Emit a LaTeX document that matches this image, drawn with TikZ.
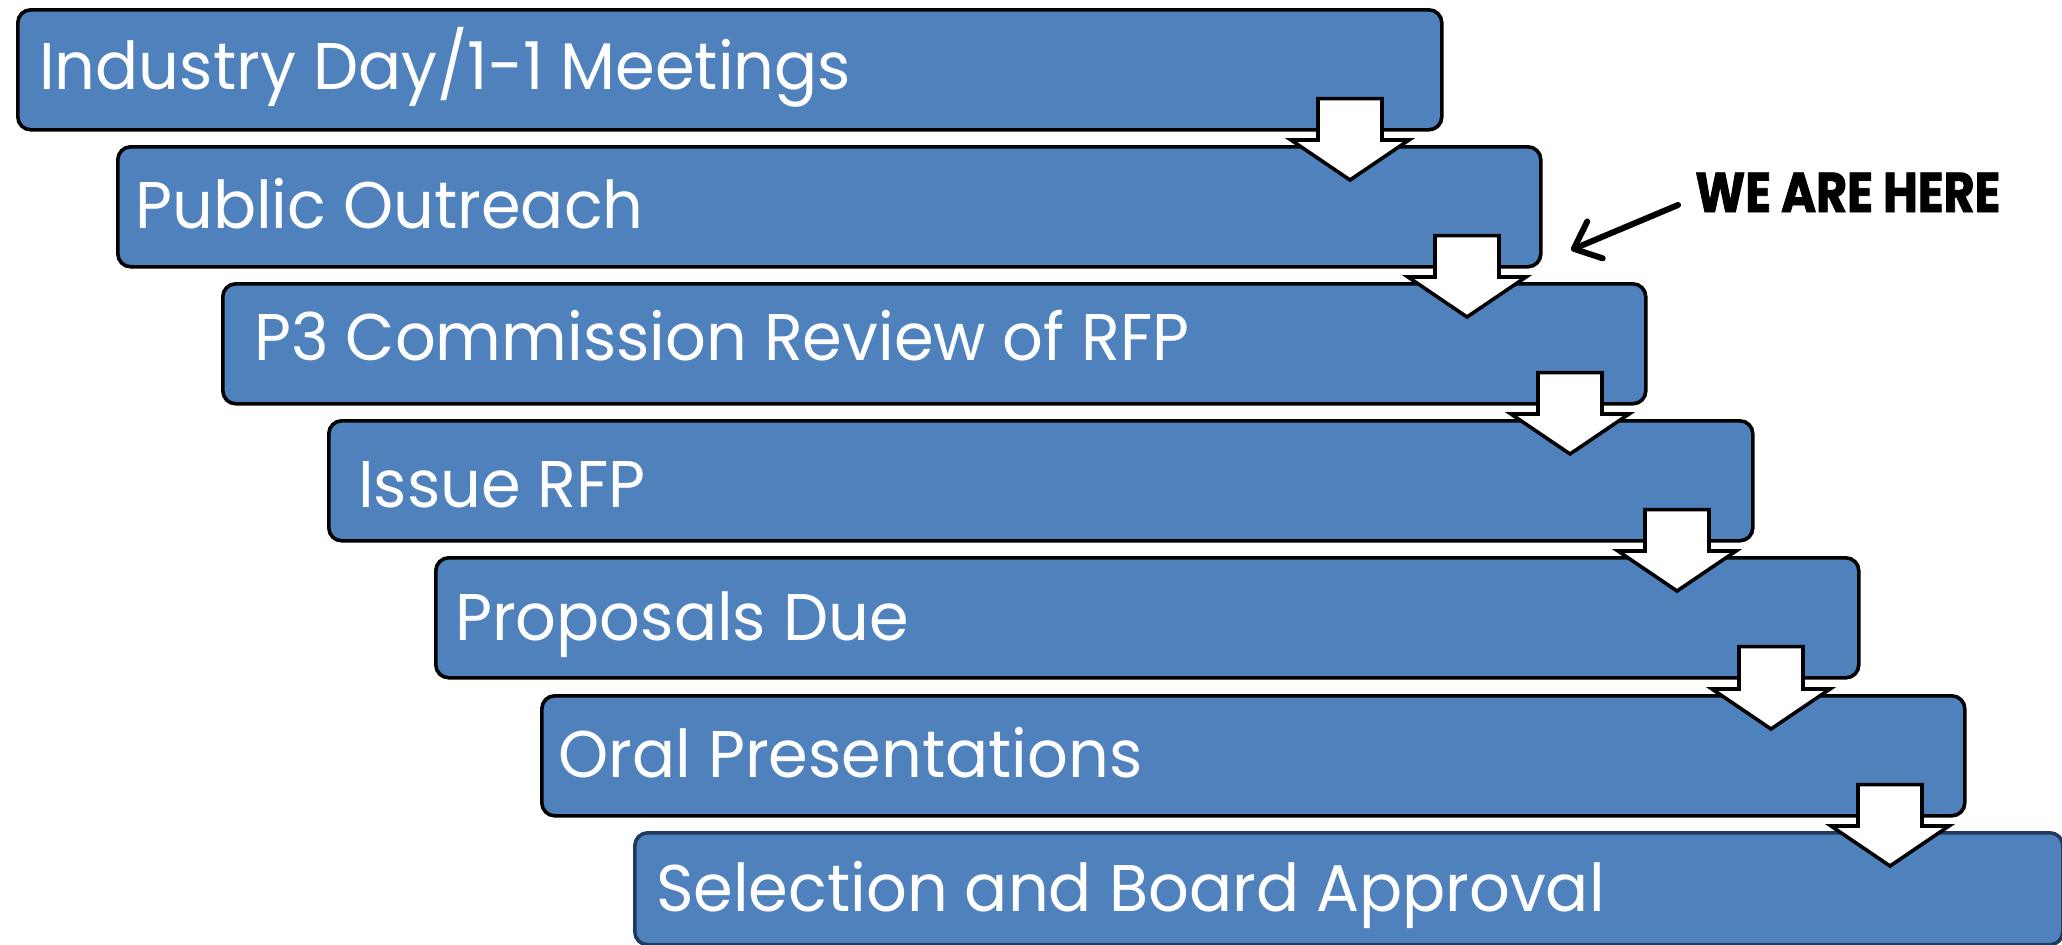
\documentclass[tikz,border=0pt]{standalone}
\usepackage{fontspec}
\setmainfont{Poppins}
\newfontfamily\boxfont{Poppins}[FakeStretch=0.967]
\newfontfamily\herefont{Poppins}[FakeStretch=0.85, FakeBold=1.5]
\usetikzlibrary{arrows.meta,calc}
\definecolor{boxblue}{HTML}{4F81BD}
\definecolor{navy}{HTML}{1F3A5F}
\newcommand\blockarr[3]{%
  \draw[blockarrow] ($(#1.south -| #3)+(-32,-33)$) -- ($(#1.south -| #3)+(32,-33)$)
    -- ($(#2.north -| #3)+(32,-5)$) -- ($(#2.north -| #3)+(59,-5)$)
    -- ($(#2.north -| #3)+(0,35)$) -- ($(#2.north -| #3)+(-59,-5)$)
    -- ($(#2.north -| #3)+(-32,-5)$) -- cycle;}
\begin{document}
\begin{tikzpicture}[x=1pt,y=-1pt,
  stepbox/.style={draw=black, line width=3.6pt, fill=boxblue, rounded corners=13pt,
    inner sep=0pt, anchor=north west, minimum height=120pt},
  lbl/.style={text=white, font=\boxfont\fontsize{66}{70}\selectfont, anchor=base west, inner sep=0pt},
  blockarrow/.style={draw=black, fill=white, line width=3.6pt, line join=miter},
  pointer/.style={draw=black, line width=6pt, line cap=round,
    -{Straight Barb[length=23pt,width=40pt,round]}},
]
\useasboundingbox (0,0) rectangle (2062,945);
\node[stepbox, minimum width=1424pt] (b1) at (16,8) {};
\node[stepbox, minimum width=1423pt] (b2) at (116,145) {};
\node[stepbox, minimum width=1423pt] (b3) at (221,282) {};
\node[stepbox, minimum width=1424pt] (b4) at (327,419) {};
\node[stepbox, minimum width=1423pt] (b5) at (434,556) {};
\node[stepbox, minimum width=1423pt] (b6) at (540,694) {};
\node[stepbox, draw=navy, minimum width=1428pt, minimum height=112pt] (b7) at (633,831) {};
\node[lbl] (t1) at (39,89) {Industry Day/1-1 Meetings};
\node[lbl] (t2) at (135,228) {Public Outreach};
\node[lbl] (t3) at (254,360) {P3 Commission Review of RFP};
\node[lbl] (t4) at (358,507) {Issue RFP};
\node[lbl] (t5) at (455,640) {Proposals Due};
\node[lbl] (t6) at (558,777) {Oral Presentations};
\node[lbl] (t7) at (656,911) {Selection and Board Approval};
\coordinate (a1) at (1350,0);
\coordinate (a2) at (1467,0);
\coordinate (a3) at (1570,0);
\coordinate (a4) at (1677,0);
\coordinate (a5) at (1771,0);
\coordinate (a6) at (1890,0);
\blockarr{b1}{b2}{a1}
\blockarr{b2}{b3}{a2}
\blockarr{b3}{b4}{a3}
\blockarr{b4}{b5}{a4}
\blockarr{b5}{b6}{a5}
\blockarr{b6}{b7}{a6}
\node[font=\herefont\bfseries\fontsize{56}{60}\selectfont, anchor=base west, inner sep=0pt] (here) at (1695,212) {WE ARE HERE};
\coordinate (ptail) at (1678,205);
\coordinate (ptip) at (1571,250);
\draw[pointer] (ptail) -- (ptip);
\end{tikzpicture}
\end{document}
